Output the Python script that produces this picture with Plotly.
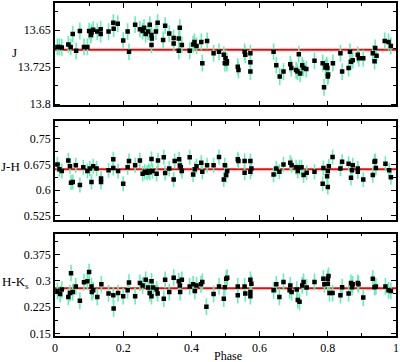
import plotly.graph_objects as go
from plotly.subplots import make_subplots

# ---- data: J ----
j_phase = [0.007, 0.013, 0.020, 0.039, 0.046, 0.052, 0.062, 0.073, 0.085, 0.095, 0.100, 0.105, 0.107, 0.112,
           0.124, 0.134, 0.134, 0.157, 0.171, 0.172, 0.184, 0.200, 0.213, 0.217, 0.235, 0.249, 0.257, 0.261,
           0.266, 0.273, 0.278, 0.283, 0.284, 0.283, 0.296, 0.301, 0.317, 0.323, 0.335, 0.348, 0.348, 0.363,
           0.366, 0.363, 0.372, 0.395, 0.405, 0.409, 0.415, 0.429, 0.432, 0.446, 0.465, 0.481, 0.495, 0.500,
           0.504, 0.498, 0.504, 0.536, 0.538, 0.556, 0.558, 0.573, 0.573, 0.573, 0.641, 0.649, 0.659, 0.670,
           0.690, 0.693, 0.707, 0.711, 0.715, 0.719, 0.725, 0.729, 0.737, 0.761, 0.785, 0.793, 0.797, 0.799,
           0.801, 0.800, 0.789, 0.815, 0.837, 0.842, 0.861, 0.865, 0.868, 0.873, 0.888, 0.891, 0.904, 0.932,
           0.937, 0.939, 0.943, 0.967, 0.978, 0.985]
j_mag = [13.684, 13.684, 13.685, 13.679, 13.684, 13.658, 13.692, 13.652, 13.684, 13.684, 13.652, 13.660, 13.655,
         13.649, 13.653, 13.648, 13.658, 13.653, 13.635, 13.647, 13.637, 13.671, 13.653, 13.694, 13.639, 13.648,
         13.652, 13.645, 13.658, 13.653, 13.639, 13.660, 13.667, 13.680, 13.653, 13.635, 13.670, 13.641, 13.657,
         13.666, 13.677, 13.667, 13.645, 13.692, 13.680, 13.692, 13.679, 13.674, 13.682, 13.674, 13.717, 13.672,
         13.697, 13.694, 13.700, 13.707, 13.713, 13.717, 13.717, 13.724, 13.731, 13.694, 13.700, 13.697, 13.715,
         13.734, 13.694, 13.721, 13.744, 13.734, 13.719, 13.727, 13.731, 13.734, 13.699, 13.738, 13.721, 13.727,
         13.729, 13.712, 13.717, 13.726, 13.721, 13.727, 13.740, 13.744, 13.766, 13.717, 13.697, 13.734, 13.727,
         13.694, 13.714, 13.711, 13.700, 13.707, 13.707, 13.697, 13.713, 13.686, 13.702, 13.672, 13.674, 13.682]
j_err = [0.017] * len(j_mag)
j_mean = 13.690

# ---- data: J-H ----
jh_phase = [0.007, 0.013, 0.020, 0.039, 0.044, 0.047, 0.052, 0.061, 0.073, 0.083, 0.095, 0.102, 0.107, 0.112,
            0.122, 0.135, 0.135, 0.157, 0.171, 0.171, 0.185, 0.200, 0.213, 0.217, 0.235, 0.249, 0.257, 0.263,
            0.270, 0.275, 0.278, 0.283, 0.286, 0.298, 0.302, 0.319, 0.323, 0.335, 0.348, 0.351, 0.364, 0.366,
            0.369, 0.372, 0.395, 0.405, 0.410, 0.415, 0.429, 0.432, 0.446, 0.465, 0.481, 0.498, 0.495, 0.502,
            0.505, 0.536, 0.538, 0.556, 0.556, 0.573, 0.576, 0.573, 0.641, 0.649, 0.658, 0.670, 0.690, 0.694,
            0.707, 0.712, 0.717, 0.723, 0.729, 0.738, 0.761, 0.787, 0.785, 0.798, 0.800, 0.800, 0.803, 0.814,
            0.837, 0.842, 0.861, 0.868, 0.873, 0.871, 0.888, 0.888, 0.904, 0.932, 0.937, 0.939, 0.941, 0.969,
            0.980, 0.985]
jh_col = [0.675, 0.661, 0.656, 0.687, 0.670, 0.622, 0.624, 0.673, 0.615, 0.667, 0.656, 0.663, 0.624, 0.670,
          0.663, 0.634, 0.624, 0.658, 0.690, 0.665, 0.656, 0.619, 0.667, 0.685, 0.673, 0.687, 0.648, 0.654,
          0.651, 0.656, 0.652, 0.691, 0.656, 0.648, 0.687, 0.696, 0.650, 0.663, 0.631, 0.685, 0.690, 0.672,
          0.667, 0.656, 0.696, 0.646, 0.661, 0.670, 0.680, 0.654, 0.673, 0.673, 0.697, 0.673, 0.631, 0.644,
          0.656, 0.690, 0.685, 0.685, 0.651, 0.685, 0.663, 0.654, 0.646, 0.663, 0.654, 0.675, 0.680, 0.673,
          0.667, 0.656, 0.667, 0.667, 0.644, 0.651, 0.654, 0.665, 0.619, 0.641, 0.609, 0.656, 0.670, 0.697,
          0.663, 0.683, 0.677, 0.636, 0.673, 0.658, 0.663, 0.654, 0.631, 0.644, 0.683, 0.685, 0.665, 0.677,
          0.658, 0.638]
jh_err = [0.022] * len(jh_col)
jh_mean = 0.661

# ---- data: H-Ks ----
hk_phase = [0.007, 0.015, 0.020, 0.039, 0.044, 0.047, 0.052, 0.061, 0.073, 0.085, 0.095, 0.100, 0.107, 0.108,
            0.112, 0.124, 0.136, 0.157, 0.171, 0.172, 0.185, 0.200, 0.213, 0.217, 0.235, 0.249, 0.257, 0.266,
            0.273, 0.278, 0.283, 0.283, 0.288, 0.298, 0.301, 0.319, 0.323, 0.335, 0.348, 0.363, 0.366, 0.367,
            0.372, 0.395, 0.405, 0.410, 0.415, 0.432, 0.428, 0.444, 0.465, 0.481, 0.495, 0.498, 0.502, 0.505,
            0.536, 0.536, 0.556, 0.558, 0.573, 0.576, 0.573, 0.573, 0.641, 0.649, 0.658, 0.670, 0.688, 0.690,
            0.694, 0.709, 0.712, 0.717, 0.725, 0.729, 0.738, 0.761, 0.787, 0.790, 0.800, 0.802, 0.800, 0.805,
            0.814, 0.837, 0.842, 0.861, 0.868, 0.871, 0.873, 0.888, 0.890, 0.904, 0.932, 0.937, 0.941, 0.969,
            0.978, 0.985]
hk_col = [0.271, 0.262, 0.275, 0.254, 0.265, 0.322, 0.268, 0.284, 0.243, 0.296, 0.299, 0.325, 0.284, 0.268,
          0.273, 0.254, 0.290, 0.264, 0.259, 0.221, 0.265, 0.256, 0.273, 0.295, 0.256, 0.294, 0.287, 0.303,
          0.281, 0.265, 0.256, 0.299, 0.281, 0.275, 0.264, 0.249, 0.303, 0.268, 0.309, 0.299, 0.287, 0.268,
          0.303, 0.284, 0.290, 0.271, 0.287, 0.297, 0.290, 0.226, 0.262, 0.284, 0.249, 0.282, 0.306, 0.309,
          0.284, 0.259, 0.284, 0.264, 0.303, 0.292, 0.268, 0.256, 0.273, 0.290, 0.254, 0.297, 0.273, 0.287,
          0.268, 0.275, 0.245, 0.240, 0.287, 0.297, 0.281, 0.297, 0.306, 0.290, 0.292, 0.314, 0.306, 0.265,
          0.265, 0.259, 0.282, 0.264, 0.294, 0.282, 0.290, 0.294, 0.290, 0.252, 0.306, 0.282, 0.284, 0.284,
          0.273, 0.271]
hk_err = [0.024] * len(hk_col)
hk_mean = 0.2785

# ---- tick labels ----
x_ticks = [0, 0.2, 0.4, 0.6, 0.8, 1]
x_labels = ["0", "0.2", "0.4", "0.6", "0.8", "1"]
j_ticks = [13.65, 13.725, 13.8]
j_labels = ["13.65", "13.725", "13.8"]
jh_ticks = [0.525, 0.6, 0.675, 0.75]
jh_labels = ["0.525", "0.6", "0.675", "0.75"]
hk_ticks = [0.15, 0.225, 0.3, 0.375]
hk_labels = ["0.15", "0.225", "0.3", "0.375"]
y_titles = ["J", "J-H", "H-K<sub>s</sub>"]

ERR_COLOR = "#62f0b4"
FONT = "Liberation Serif"

fig = make_subplots(rows=3, cols=1, shared_xaxes=False, vertical_spacing=0.0)

panels = [
    (j_phase, j_mag, j_err, j_mean, j_ticks, j_labels, [13.8026, 13.595], [0.6925, 1.0]),
    (jh_phase, jh_col, jh_err, jh_mean, jh_ticks, jh_labels, [0.5134, 0.8015], [0.349, 0.645]),
    (hk_phase, hk_col, hk_err, hk_mean, hk_ticks, hk_labels, [0.1423, 0.435], [0.0, 0.3075]),
]

for i, (ph, val, err, mean, tv, tl, rng, dom) in enumerate(panels, start=1):
    fig.add_trace(go.Scatter(x=[0, 1], y=[mean, mean], mode="lines",
                             line=dict(color="#ff0000", width=2), hoverinfo="skip",
                             showlegend=False), row=i, col=1)
    fig.add_trace(go.Scatter(x=ph, y=val, mode="markers",
                             marker=dict(symbol="square", size=4.5, color="black"),
                             error_y=dict(type="data", array=err, color=ERR_COLOR,
                                          thickness=1.6, width=0),
                             showlegend=False), row=i, col=1)
    step = tv[1] - tv[0]
    minor_vals = [v + step / 2 for v in [tv[0] - step] + tv]
    fig.update_yaxes(range=rng, domain=dom, tickvals=tv, ticktext=tl,
                     ticks="inside", ticklen=5, tickwidth=1.3, tickcolor="black",
                     minor=dict(tickvals=minor_vals, ticks="inside", ticklen=3,
                                tickwidth=1.3, tickcolor="black"),
                     showline=True, linecolor="black", linewidth=1.5, mirror="allticks",
                     showgrid=False, zeroline=False,
                     tickfont=dict(family=FONT, size=12, color="black"),
                     row=i, col=1)
    fig.update_xaxes(range=[0, 1], tickvals=x_ticks, ticktext=x_labels,
                     showticklabels=(i == 3),
                     ticks="inside", ticklen=5, tickwidth=1.3, tickcolor="black",
                     minor=dict(dtick=0.1, ticks="inside", ticklen=3,
                                tickwidth=1.3, tickcolor="black"),
                     showline=True, linecolor="black", linewidth=1.5, mirror="allticks",
                     showgrid=False, zeroline=False,
                     tickfont=dict(family=FONT, size=12, color="black"),
                     row=i, col=1)

title_pos = [(-0.12, 51), (-0.13, 165), (-0.115, 282)]
annotations = []
for t, (xp, ypx) in zip(y_titles, title_pos):
    annotations.append(dict(text=t, xref="paper", yref="paper", x=xp,
                            y=(336 - ypx) / 335, showarrow=False,
                            xanchor="center", yanchor="middle",
                            font=dict(family=FONT, size=13, color="black")))
annotations.append(dict(text="Phase", xref="paper", yref="paper", x=0.506,
                        y=(336 - 356) / 335, showarrow=False,
                        xanchor="center", yanchor="middle",
                        font=dict(family=FONT, size=12, color="black")))

fig.update_layout(width=400, height=362, margin=dict(l=55, r=3, t=1, b=26),
                  plot_bgcolor="white", paper_bgcolor="white",
                  annotations=annotations, showlegend=False)

fig.write_html("out.html", config={"displayModeBar": False},
               post_script="document.body.style.margin='0px';document.body.style.overflow='hidden';")
